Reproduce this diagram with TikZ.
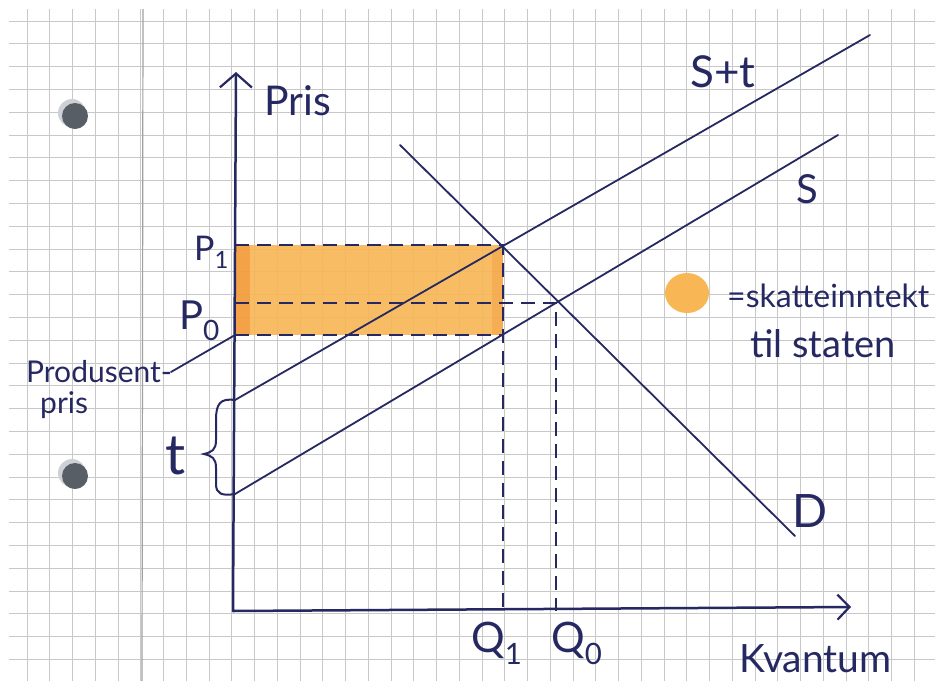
\documentclass[tikz,border=0pt]{standalone}
\usepackage{fontspec}
\setmainfont{Lato}
\usetikzlibrary{arrows.meta}
\definecolor{ink}{RGB}{38,40,98}
\definecolor{gridc}{RGB}{200,200,200}
\definecolor{marginc}{RGB}{160,160,160}
\definecolor{orangefill}{RGB}{248,182,84}
\definecolor{orangedark}{RGB}{240,140,48}
\definecolor{holec}{RGB}{88,94,102}
\definecolor{holering}{RGB}{205,208,212}
\tikzset{
  curve/.style={draw=ink, line width=1.8pt, line cap=round},
  axis/.style={draw=ink, line width=2.5pt, line cap=round, line join=round},
  dashline/.style={draw=ink, line width=2pt, dash pattern=on 14pt off 8pt},
  lbl/.style={text=ink, inner sep=0pt, anchor=base west},
  gridline/.style={draw=gridc, line width=0.9pt},
  hole/.style={fill=holec},
}
\newcommand{\fs}[1]{\fontsize{#1}{#1}\selectfont}
\begin{document}
\begin{tikzpicture}[x=1pt,y=-1pt]
\useasboundingbox (0,0) rectangle (935,681);
\fill[white] (0,0) rectangle (935,681);
% grid paper
\foreach \k in {0,...,39} {\draw[gridline] ({27+22.75*\k},9) -- ({27+22.75*\k},681);}
\foreach \k in {0,...,29} {\draw[gridline] (9,{21+22.8*\k}) -- (935,{21+22.8*\k});}
\draw[draw=marginc, line width=1.2pt] (143,9) -- (142,681);
% holes
\fill[holering] (72,113) circle (14);
\fill[hole] (75,116) circle (13);
\fill[holering] (72,473) circle (14);
\fill[hole] (75,476) circle (13);
% coordinates
\coordinate (O) at (233,611);
\coordinate (Ytop) at (236,72);
\coordinate (Xend) at (851,607);
\coordinate (A1) at (235,400);
\coordinate (A2) at (870,35);
\coordinate (B1) at (235,494);
\coordinate (B2) at (838,135);
\coordinate (D1) at (400,145);
\coordinate (D2) at (795,536);
\coordinate (E1) at (503,245);
\coordinate (E0) at (556,303);
\coordinate (R) at (503,335);
\coordinate (P1y) at (235,245);
\coordinate (P0y) at (235,303);
\coordinate (Pby) at (235,335);
\coordinate (Q1x) at (503,611);
\coordinate (Q0x) at (556,611);
% tax revenue rectangle
\fill[orangefill, opacity=0.9] (P1y) rectangle (R);
\fill[orangedark, opacity=0.55] (236,245) rectangle (250,335);
\fill[orangedark, opacity=0.3] (492,250) rectangle (503,335);
% dashed guides
\draw[dashline] (P1y) -- (E1) -- (Q1x);
\draw[dashline] (P0y) -- (E0) -- (Q0x);
\draw[dashline] (Pby) -- (R);
% curves
\draw[curve] (A1) -- (A2);
\draw[curve] (B1) -- (B2);
\draw[curve] (D1) -- (D2);
% axes
\draw[axis, {Straight Barb[length=14pt,width=32pt,line width=2.2pt]}-{Straight Barb[length=12pt,width=25pt,line width=2.2pt]}] (Ytop) -- (O) -- (Xend);
% labels
\node[lbl] (pris) at (264,115) {\fs{41}Pris};
\node[lbl] (p1) at (194,260) {\fs{34}P\textsubscript{1}};
\node[lbl] (p0) at (179,329) {\fs{40}P\textsubscript{0}};
\node[lbl] (prod) at (26,382) {\fs{30}Produsent-};
\node[lbl] (prodb) at (40,413) {\fs{30}pris};
\coordinate (prodend) at (171,372);
\draw[curve] (prodend) -- (Pby);
\node[lbl] (tlab) at (165,474) {\fs{56}t};
\draw[curve, line width=2pt] (A1) .. controls (220,398) and (216,404) .. (216,420) -- (216,440) .. controls (216,450) and (212,452) .. (204,454) .. controls (212,456) and (216,458) .. (216,468) -- (216,484) .. controls (216,494) and (222,496) .. (B1);
\node[lbl] (stlab) at (690,87) {\fs{44}S+t};
\node[lbl] (slab) at (796,203) {\fs{40}S};
\node[lbl] (dlab) at (792,527) {\fs{46}D};
\node[lbl] (q1) at (471,652) {\fs{42}Q\textsubscript{1}};
\node[lbl] (q0) at (551,652) {\fs{42}Q\textsubscript{0}};
\node[lbl] (kv) at (739,672) {\fs{39}Kvantum};
% legend
\fill[orangefill] (687,293) ellipse (22 and 20);
\node[lbl] (leg1) at (727,307) {\fs{32}=skatteinntekt};
\node[lbl] (leg2) at (750,357) {\fs{38}til staten};
\end{tikzpicture}
\end{document}
